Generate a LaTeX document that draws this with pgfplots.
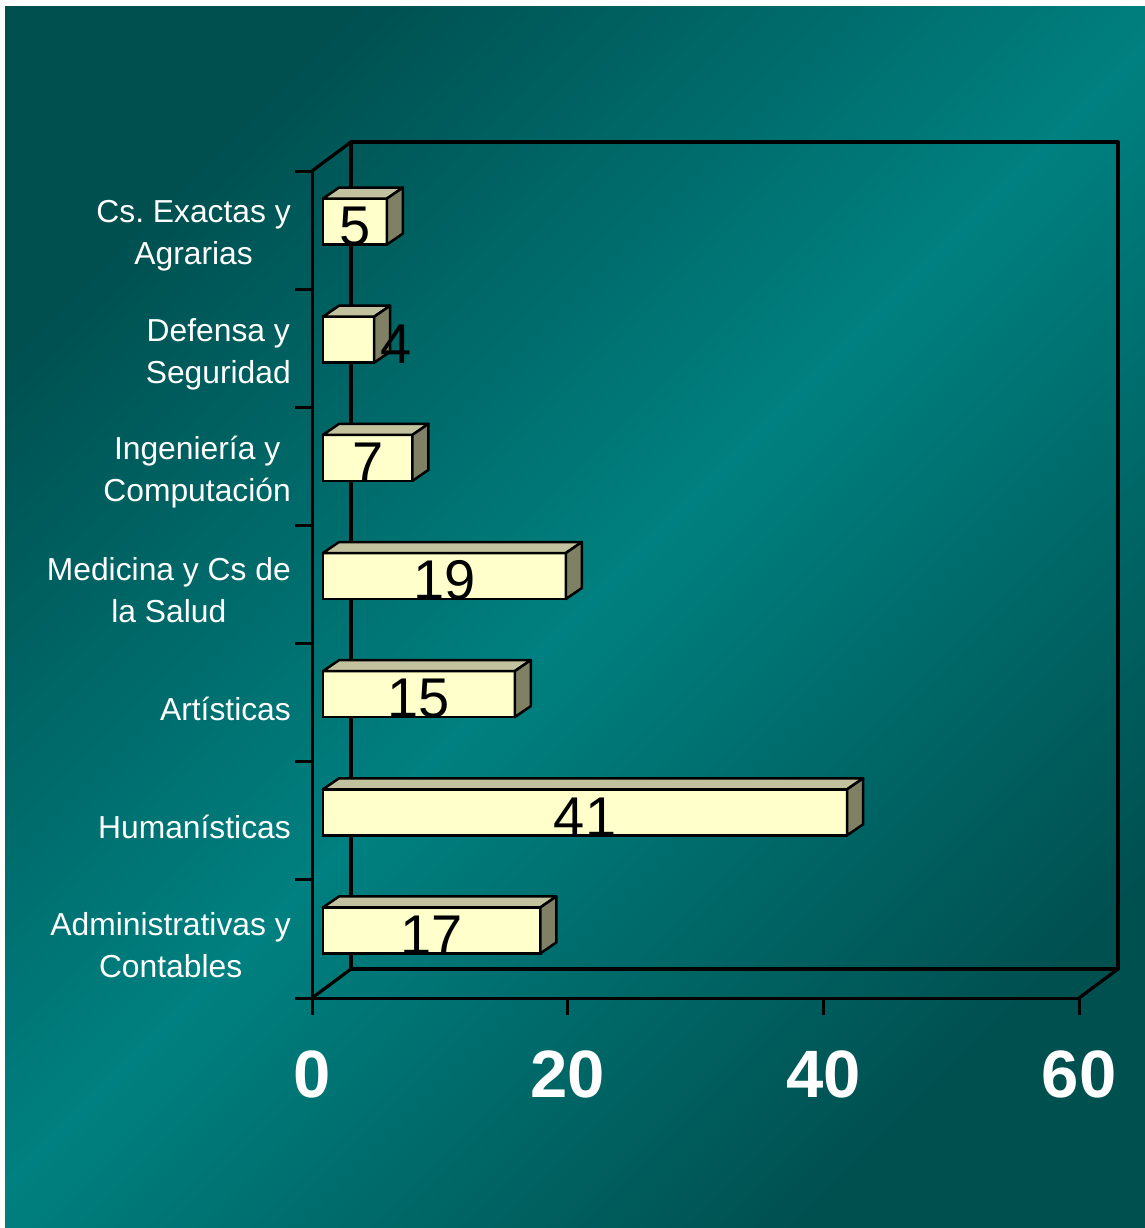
\documentclass[border=0pt]{standalone}
\usepackage{pgfplots}
\pgfplotsset{compat=1.18}
\usepackage{pgfplotstable}
\usepackage{fontspec}
\setmainfont{Liberation Sans}
\frenchspacing
\definecolor{bgdark}{RGB}{0,80,80}
\definecolor{bglight}{RGB}{0,128,128}
\definecolor{barfront}{RGB}{255,255,204}
\definecolor{bartop}{RGB}{194,194,158}
\definecolor{barside}{RGB}{128,128,100}

\pgfplotstableread{
y v
0.5 17
1.5 41
2.5 15
3.5 19
4.5 7
5.5 4
6.5 5
}\data

\begin{document}
\begin{tikzpicture}
\fill[white] (0,0) rectangle (1145pt,-1228pt);
\shade[top color=bgdark, bottom color=bgdark, middle color=bglight, shading angle=45] (5pt,-7pt) rectangle (1145pt,-1228pt);
\useasboundingbox (0,0) rectangle (1145pt,-1228pt);
\begin{axis}[
  at={(312pt,-998pt)}, anchor=origin,
  x=12.78333pt, y=118.142857pt,
  xmin=0, xmax=60, ymin=0, ymax=7,
  clip=false,
  axis x line*=bottom, axis y line*=left,
  axis line style={line width=3pt, black, line cap=round},
  every tick/.style={black, line width=3pt},
  major tick length=17pt,
  tick align=outside,
  xtick={0,20,40,60},
  ytick={0,...,7},
  yticklabels={},
  extra y ticks={0.5,1.5,...,6.5},
  extra y tick labels={{Administrativas y\\Contables},{Humanísticas},{Artísticas},{Medicina y Cs de\\la Salud},{Ingeniería y\\Computación},{Defensa y\\Seguridad},{Cs. Exactas y\\Agrarias}},
  extra y tick style={major tick length=0pt},
  yticklabel style={font=\fontsize{31.8}{42}\selectfont, text=white, align=center, anchor=east, inner sep=0pt, xshift=-21pt, yshift=-6pt},
  xticklabel style={font=\fontsize{67}{80}\selectfont\bfseries, text=white, anchor=north, inner sep=0pt, yshift=-35pt},
  /pgf/number format/assume math mode=true,
]
\draw[line width=3.2pt, line join=round] ([xshift=39pt,yshift=29pt]axis cs:0,0) rectangle ([xshift=39pt,yshift=29pt]axis cs:60,7);
\draw[line width=3.2pt] (axis cs:0,7) -- ([xshift=39pt,yshift=29pt]axis cs:0,7);
\draw[line width=3.2pt] (axis cs:0,0) -- ([xshift=39pt,yshift=29pt]axis cs:0,0);
\draw[line width=3.2pt] (axis cs:60,0) -- ([xshift=39pt,yshift=29pt]axis cs:60,0);

\addplot[xbar, bar width=46pt, bar shift=0pt, fill=barfront, draw=black, line width=2.5pt, xshift=11pt, yshift=8.5pt] table[x=v, y=y] {\data};

\addplot[scatter, only marks, mark=*, mark size=0pt, draw=none,
  visualization depends on={rawx \as \val},
  scatter/@pre marker code/.code={%
    \pgfmathsetmacro\L{\val*12.78333}%
    \pgfmathtruncatemacro\vi{round(\val)}%
    \pgfmathsetmacro\lx{\val<4.5 ? \val+1.7 : \val/2}%
    \pgfmathsetmacro\LX{11+(\lx-\val)*12.78333}%
    \filldraw[fill=bartop, draw=black, line width=2.5pt, line join=round] (11pt,31.5pt) -- ({11pt-\L pt},31.5pt) -- ({27pt-\L pt},42.5pt) -- (27pt,42.5pt) -- cycle;
    \filldraw[fill=barside, draw=black, line width=2.5pt, line join=round] (11pt,31.5pt) -- (27pt,42.5pt) -- (27pt,-3.5pt) -- (11pt,-14.5pt) -- cycle;
    \node[inner sep=0pt, anchor=center, font=\fontsize{56}{60}\selectfont, text=black] at (\LX pt,4pt) {\vi};
  },
  scatter/@post marker code/.code={}
] table[x=v, y=y] {\data};
\end{axis}
\end{tikzpicture}
\end{document}
